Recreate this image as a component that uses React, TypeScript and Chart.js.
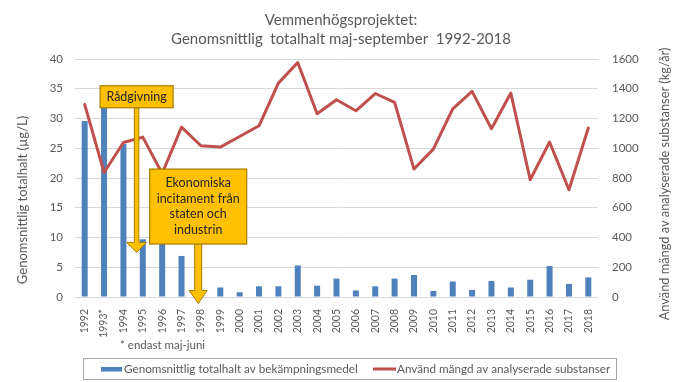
import React, { useEffect, useRef } from "react";
import { Chart, registerables } from "chart.js";

Chart.register(...registerables);

const years = ["1992","1993*","1994","1995","1996","1997","1998","1999","2000","2001","2002","2003","2004","2005","2006","2007","2008","2009","2010","2011","2012","2013","2014","2015","2016","2017","2018"];
const concentration = [29.6,32.3,25.7,9.7,9.2,6.9,null,1.6,0.8,1.8,1.8,5.3,1.9,3.1,1.1,1.8,3.1,3.7,1.0,2.6,1.2,2.7,1.6,2.9,5.2,2.2,3.3];
const usedAmount = [1295,837,1039,1075,830,1142,1017,1008,1079,1151,1438,1576,1232,1326,1252,1368,1308,860,994,1265,1382,1131,1371,788,1042,721,1136];
const leftTicks = [0,5,10,15,20,25,30,35,40];
const rightTicks = [0,200,400,600,800,1000,1200,1400,1600];

const titleLines = ["Vemmenhögsprojektet:", "Genomsnittlig  totalhalt maj-september  1992-2018"];
const leftTitle = "Genomsnittlig totalhalt (µg/L)";
const rightTitle = "Använd mängd av analyserade substanser (kg/år)";
const seriesNames = ["Genomsnittlig totalhalt av bekämpningsmedel", "Använd mängd av analyserade substanser"];
const footnote = "* endast maj-juni";

const annotationTexts = [["Rådgivning"], ["Ekonomiska", "incitament från", "staten och", "industrin"]];
const annotationX = [2.68, 5.86];
const annotationBoxTop = [35.5, 21.5];
const annotationBoxBottom = [31.8, 8.9];
const annotationTip = [7.5, -1.1];

const FONT = "Lato, 'Open Sans', sans-serif";
const GREY = "#595959";
const BLUE = "#4F81BD";
const RED = "#C0504D";

const decorPlugin = {
  id: "decor",
  afterDatasetsDraw(chart: any) {
    const ctx = chart.ctx;
    const xs = chart.scales.x;
    const ys = chart.scales.y;
    ctx.save();
    const boxW = [73, 97];
    const shaftW = [4.5, 7];
    const headW = [20, 18];
    const headH = [10, 13];
    for (let i = 0; i < annotationTexts.length; i++) {
      const cx = xs.getPixelForValue(annotationX[i]);
      const top = ys.getPixelForValue(annotationBoxTop[i]);
      const bottom = ys.getPixelForValue(annotationBoxBottom[i]);
      const tip = ys.getPixelForValue(annotationTip[i]);
      const sw = shaftW[i] / 2, hw = headW[i] / 2, hh = headH[i];
      ctx.beginPath();
      ctx.moveTo(cx - sw, bottom);
      ctx.lineTo(cx - sw, tip - hh);
      ctx.lineTo(cx - hw, tip - hh);
      ctx.lineTo(cx, tip);
      ctx.lineTo(cx + hw, tip - hh);
      ctx.lineTo(cx + sw, tip - hh);
      ctx.lineTo(cx + sw, bottom);
      ctx.closePath();
      ctx.fillStyle = "#FFC000";
      ctx.fill();
      ctx.strokeStyle = "#A67C00";
      ctx.lineWidth = 1;
      ctx.stroke();
      const bx = cx - boxW[i] / 2;
      ctx.fillStyle = "#FFC000";
      ctx.fillRect(bx, top, boxW[i], bottom - top);
      ctx.strokeStyle = "#A67C00";
      ctx.lineWidth = 1.2;
      ctx.strokeRect(bx, top, boxW[i], bottom - top);
      ctx.fillStyle = "#262626";
      ctx.font = `12.5px ${FONT}`;
      ctx.textAlign = "center";
      ctx.textBaseline = "middle";
      const lines = annotationTexts[i];
      const lh = 15.6;
      const mid = (top + bottom) / 2;
      lines.forEach((t, k) => {
        ctx.fillText(t, cx, mid + (k - (lines.length - 1) / 2) * lh);
      });
    }
    ctx.restore();
  },
  afterDraw(chart: any) {
    const ctx = chart.ctx;
    const area = chart.chartArea;
    ctx.save();
    ctx.fillStyle = GREY;
    ctx.textAlign = "center";
    ctx.textBaseline = "middle";
    ctx.font = `15px ${FONT}`;
    ctx.fillText(titleLines[0], 341, 20);
    ctx.fillText(titleLines[1], 341, 39);
    ctx.font = `13px ${FONT}`;
    ctx.save();
    ctx.translate(23, (area.top + area.bottom) / 2 + 22);
    ctx.rotate(-Math.PI / 2);
    ctx.fillText(leftTitle, 0, 0);
    ctx.restore();
    ctx.save();
    ctx.font = `12.8px ${FONT}`;
    ctx.translate(665, (area.top + area.bottom) / 2 + 6);
    ctx.rotate(-Math.PI / 2);
    ctx.fillText(rightTitle, 0, 0);
    ctx.restore();
    ctx.textAlign = "left";
    ctx.font = `11.5px ${FONT}`;
    ctx.fillText(footnote, 120, 345);
    ctx.fillStyle = "#FFFFFF";
    ctx.fillRect(83.5, 358.5, 533, 21);
    ctx.strokeStyle = "#A6A6A6";
    ctx.lineWidth = 1;
    ctx.strokeRect(83.5, 358.5, 533, 21);
    ctx.fillStyle = BLUE;
    ctx.fillRect(101, 367, 21, 4.5);
    ctx.strokeStyle = RED;
    ctx.lineWidth = 3;
    ctx.beginPath();
    ctx.moveTo(373, 369);
    ctx.lineTo(396, 369);
    ctx.stroke();
    ctx.fillStyle = GREY;
    ctx.font = `11.7px ${FONT}`;
    ctx.fillText(seriesNames[0], 124, 369);
    ctx.fillText(seriesNames[1], 397, 369);
    ctx.restore();
  },
};

export default function App() {
  const ref = useRef<HTMLCanvasElement | null>(null);
  useEffect(() => {
    document.body.style.margin = "0";
    const canvas = ref.current;
    if (!canvas) return;
    const chart = new Chart(canvas, {
      type: "bar",
      data: {
        labels: years,
        datasets: [
          {
            type: "line",
            label: seriesNames[1],
            data: usedAmount,
            yAxisID: "y1",
            borderColor: RED,
            backgroundColor: RED,
            borderWidth: 3,
            pointRadius: 0,
            tension: 0,
            borderJoinStyle: "round",
            borderCapStyle: "round",
            order: 0,
          } as any,
          {
            type: "bar",
            label: seriesNames[0],
            data: concentration,
            yAxisID: "y",
            backgroundColor: BLUE,
            barPercentage: 0.31,
            categoryPercentage: 1,
            order: 1,
          } as any,
        ],
      },
      options: {
        animation: false,
        responsive: false,
        maintainAspectRatio: false,
        layout: { padding: { top: 59, left: 0, right: 0, bottom: 0 } },
        plugins: {
          legend: { display: false },
          title: { display: false },
          tooltip: { enabled: false },
        },
        scales: {
          x: {
            grid: { display: false },
            border: { display: false },
            ticks: {
              color: GREY,
              font: { family: FONT, size: 10.5 },
              minRotation: 90,
              maxRotation: 90,
              padding: 4,
              autoSkip: false,
            },
            afterFit: (s: any) => { s.height = 85; },
          },
          y: {
            position: "left",
            min: 0,
            max: 40,
            grid: { color: "#D9D9D9", lineWidth: 1, drawTicks: false },
            border: { display: false },
            ticks: {
              color: GREY,
              font: { family: FONT, size: 11.5 },
              padding: 12,
              callback: (v: any) => (leftTicks.includes(v) ? String(v) : ""),
              stepSize: 5,
            },
            afterFit: (s: any) => { s.width = 75; },
          },
          y1: {
            position: "right",
            min: 0,
            max: 1600,
            grid: { display: false, drawTicks: false },
            border: { display: false },
            ticks: {
              color: GREY,
              font: { family: FONT, size: 11.5 },
              padding: 14,
              stepSize: 200,
              callback: (v: any) => (rightTicks.includes(v) ? String(v) : ""),
            },
            afterFit: (s: any) => { s.width = 82; },
          },
        },
      },
      plugins: [decorPlugin],
    });
    return () => chart.destroy();
  }, []);
  return (
    <div style={{ width: 680, height: 382, background: "#fff" }}>
      <canvas ref={ref} width={680} height={382} style={{ display: "block" }} />
    </div>
  );
}
